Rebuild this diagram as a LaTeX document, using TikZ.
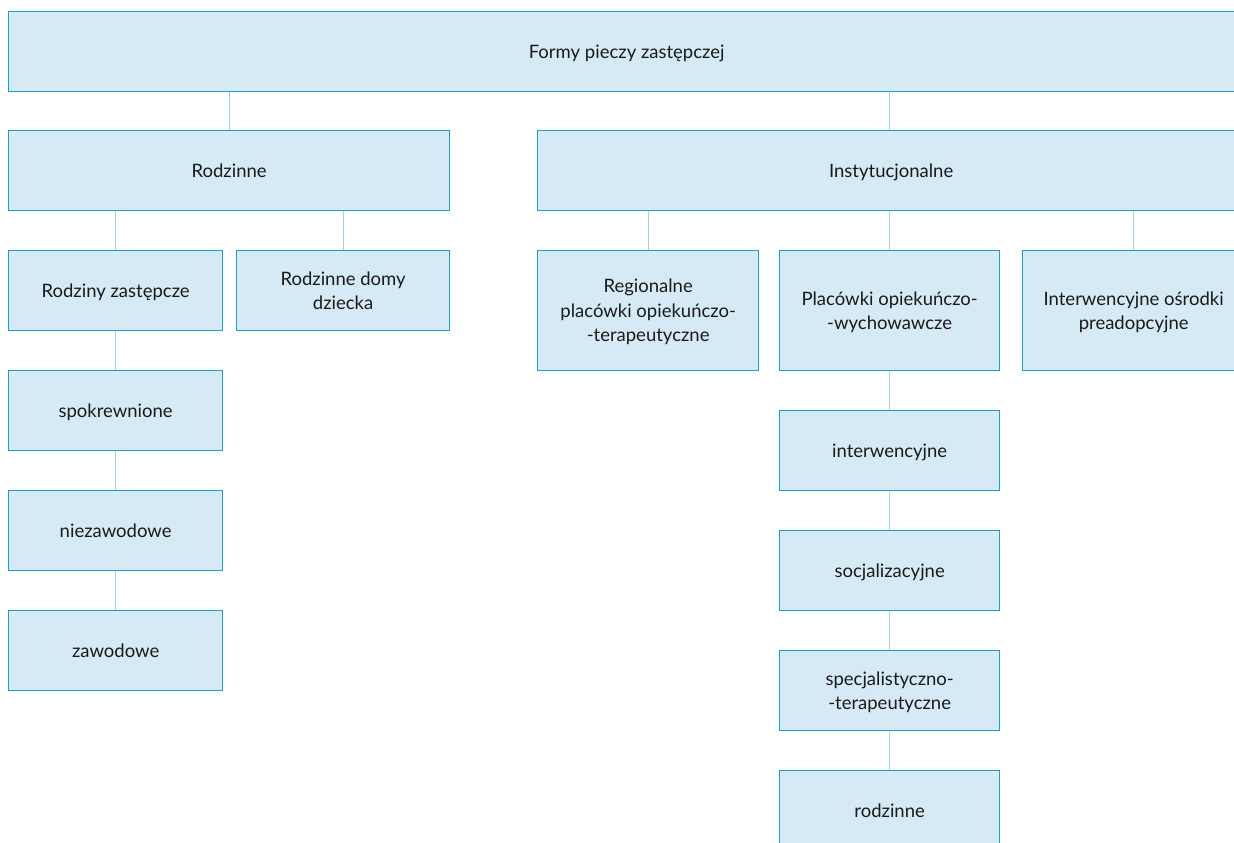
\documentclass[tikz,border=0pt]{standalone}
\usepackage{fontspec}
\setmainfont{Lato}
\usepackage{tikz}
\usetikzlibrary{positioning}
\definecolor{boxfill}{HTML}{D5EAF5}
\definecolor{boxline}{HTML}{17A2CD}
\definecolor{linkcol}{HTML}{9FD3E7}
\definecolor{txtcol}{HTML}{1A1A1A}
\tikzstyle{box} = [rectangle,
anchor=north west,
inner sep=0pt,
draw=boxline,
fill=boxfill,
line width=1.3pt,
text=txtcol,
text depth=-2pt,
align=center,
font=\fontsize{18.5}{24.5}\selectfont]
\tikzstyle{smallbox} = [box,
minimum width=214pt,
minimum height=80pt]
\tikzstyle{link} = [draw=linkcol, line width=1pt]

\begin{document}
\begin{tikzpicture}[x=1pt, y=-1pt]
  \useasboundingbox (0,0) rectangle (1234,843);
  \clip (0,0) rectangle (1234,843);

  \node at (8,11) (forms) [box, minimum width=1236pt, minimum height=80pt] {Formy pieczy zastępczej};

  \node at (8,130) (family) [box, minimum width=441pt, minimum height=80pt] {Rodzinne};
  \node at (537,130) (inst) [box, minimum width=707pt, minimum height=80pt] {Instytucjonalne};

  % rodzinne
  \node at (8,250) (foster) [smallbox] {Rodziny zastępcze};
  \node at (236,250) (homes) [smallbox, minimum width=213pt] {Rodzinne domy\\dziecka};
  \node at (8,370) (related) [smallbox] {spokrewnione};
  \node at (8,490) (nonprof) [smallbox] {niezawodowe};
  \node at (8,610) (prof) [smallbox] {zawodowe};

  % instytucjonalne
  \node at (537,250) (regional) [smallbox, minimum width=221pt, minimum height=120pt] {Regionalne\\placówki opiekuńczo-\\-terapeutyczne};
  \node at (779,250) (care) [smallbox, minimum width=220pt, minimum height=120pt] {Placówki opiekuńczo-\\-wychowawcze};
  \node at (1022,250) (preadopt) [smallbox, minimum width=222pt, minimum height=120pt] {Interwencyjne ośrodki\\preadopcyjne};
  \node at (779,410) (interv) [smallbox, minimum width=220pt] {interwencyjne};
  \node at (779,530) (social) [smallbox, minimum width=220pt] {socjalizacyjne};
  \node at (779,650) (special) [smallbox, minimum width=220pt] {specjalistyczno-\\-terapeutyczne};
  \node at (779,770) (famtype) [smallbox, minimum width=220pt] {rodzinne};

  \draw [link] (family.north) -- (family.north |- forms.south);
  \draw [link] (care.north |- inst.north) -- (care.north |- forms.south);
  \draw [link] (foster.north) -- (foster.north |- family.south);
  \draw [link] (homes.north) -- (homes.north |- family.south);
  \draw [link] (foster) -- (related);
  \draw [link] (related) -- (nonprof);
  \draw [link] (nonprof) -- (prof);
  \draw [link] (regional.north) -- (regional.north |- inst.south);
  \draw [link] (care.north) -- (care.north |- inst.south);
  \draw [link] (preadopt.north) -- (preadopt.north |- inst.south);
  \draw [link] (care) -- (interv);
  \draw [link] (interv) -- (social);
  \draw [link] (social) -- (special);
  \draw [link] (special) -- (famtype);
\end{tikzpicture}
\end{document}
